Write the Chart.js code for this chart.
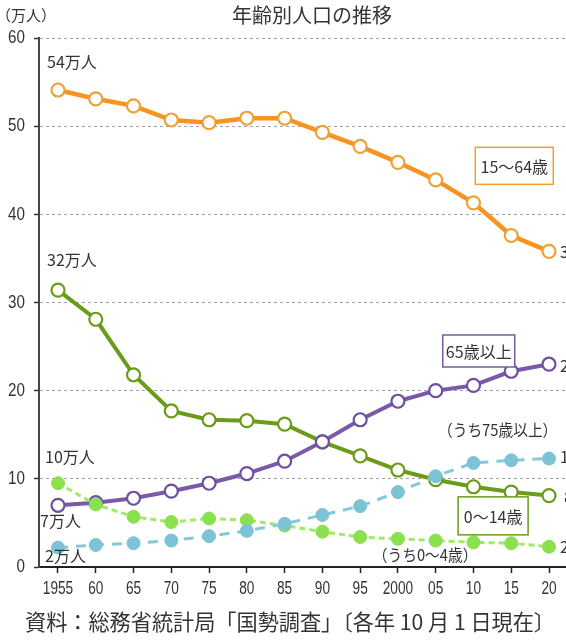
<!DOCTYPE html>
<html><head><meta charset="utf-8">
<script src="https://cdn.jsdelivr.net/npm/chart.js@4"></script>
<style>html,body{margin:0;padding:0;background:#fff}#wrap{width:566px;height:640px;position:relative}</style>
</head><body><div id="wrap"><canvas id="c" width="566" height="640"></canvas></div>
<script>
const years = [1955,1960,1965,1970,1975,1980,1985,1990,1995,2000,2005,2010,2015,2020];
const tickLabels = ['1955','60','65','70','75','80','85','90','95','2000','05','10','15','20'];
const age15to64 = [54.1,53.1,52.3,50.7,50.4,50.9,50.9,49.3,47.7,45.9,43.9,41.3,37.6,35.8];
const age0to14  = [31.4,28.1,21.8,17.7,16.7,16.6,16.2,14.2,12.6,11.0,9.9,9.1,8.5,8.1];
const age65plus = [7.0,7.3,7.8,8.6,9.5,10.6,12.0,14.2,16.7,18.8,20.0,20.6,22.2,23.0];
const age75plus = [2.2,2.5,2.7,3.0,3.5,4.1,4.9,5.9,6.9,8.5,10.3,11.8,12.1,12.3];
const age0to4   = [9.5,7.1,5.7,5.1,5.5,5.3,4.7,4.0,3.4,3.2,3.0,2.8,2.7,2.3];
const yTicks = [0,10,20,30,40,50,60];

const LAT = "'Liberation Sans',Arial,sans-serif";
const CJK = "'Noto Sans CJK JP',sans-serif";

const pts = arr => arr.map((v,i)=>({x:years[i], y:v}));

function cond(ctx, txt, x, y, sx, align){
  ctx.save(); ctx.translate(x, y); ctx.scale(sx, 1);
  ctx.textAlign = align; ctx.fillText(txt, 0, 0); ctx.restore();
}

const annot = {
  id:'annot',
  afterDatasetsDraw(chart){
    const ctx = chart.ctx, xs = chart.scales.x, ys = chart.scales.y;
    const X = v => xs.getPixelForValue(v), Y = v => ys.getPixelForValue(v);
    ctx.save();
    ctx.fillStyle = '#333';
    ctx.textBaseline = 'middle';
    ctx.textAlign = 'left';
    ctx.font = '16px ' + CJK;
    const x0 = X(years[0]);
    ctx.fillText('54万人', x0 - 11, Y(age15to64[0]) - 28);
    ctx.fillText('32万人', x0 - 11, Y(age0to14[0]) - 30);
    ctx.fillText('10万人', x0 - 13, Y(age0to4[0]) - 26);
    ctx.fillText('7万人', x0 - 18, Y(age65plus[0]) + 16);
    ctx.fillText('2万人', x0 - 13, Y(age75plus[0]) + 8);
    // right edge labels (clipped by canvas edge)
    const n = years.length-1;
    const xe = X(years[n]) + 11;
    ctx.fillText('36万人', xe, Y(age15to64[n]) + 1);
    ctx.fillText('23万人', xe, Y(age65plus[n]) + 2);
    ctx.fillText('12万人', xe, Y(age75plus[n]) - 2);
    ctx.fillText('8万人', xe + 4, Y(age0to14[n]) + 1);
    ctx.fillText('2万人', xe, Y(age0to4[n]));
    // boxed labels
    const box = (txt, cx, cy, w, h, col) => {
      ctx.fillStyle = '#fff';
      ctx.fillRect(cx - w/2, cy - h/2, w, h);
      ctx.strokeStyle = col; ctx.lineWidth = 1.5;
      ctx.strokeRect(cx - w/2, cy - h/2, w, h);
      ctx.fillStyle = '#333'; ctx.textAlign = 'center';
      ctx.fillText(txt, cx, cy + 1);
      ctx.textAlign = 'left';
    };
    ctx.font = '16px ' + CJK;
    box('15～64歳', X(2015.4), Y(45.5), 78, 37, '#F0A030');
    box('65歳以上', X(2010.7), Y(24.5), 72, 32, '#7A5AA8');
    box('0～14歳', X(2012.6), Y(5.8), 70, 38, '#6A9C1A');
    ctx.font = '16px ' + CJK;
    ctx.textAlign = 'center';
    cond(ctx, '（うち75歳以上）', X(2013.2), Y(15.5), 0.92, 'center');
    cond(ctx, '（うち0～4歳）', X(2003.6), Y(1.35), 0.92, 'center');
    ctx.restore();
  },
  afterDraw(chart){
    const ctx = chart.ctx, xs = chart.scales.x, ys = chart.scales.y;
    ctx.save();
    ctx.fillStyle = '#333';
    ctx.textBaseline = 'middle';
    // tick labels (condensed)
    ctx.font = '18px ' + LAT;
    xs.ticks.forEach((t) => {
      const i = years.indexOf(t.value);
      if (i >= 0) cond(ctx, tickLabels[i], xs.getPixelForValue(t.value), 589, 0.76, 'center');
    });
    ctx.font = '19px ' + LAT;
    ys.ticks.forEach((t) => {
      cond(ctx, String(t.value), 25, ys.getPixelForValue(t.value), 0.8, 'right');
    });
    ctx.textAlign = 'left';
    ctx.font = '15px ' + CJK;
    ctx.fillText('（万人）', -4, 15);
    ctx.textAlign = 'center';
    ctx.font = '20px ' + CJK;
    ctx.fillText('年齢別人口の推移', 312, 15);
    ctx.font = '21.5px ' + CJK;
    ctx.fillText('資料：総務省統計局「国勢調査」〔各年 10 月 1 日現在〕', 290, 622, 530);
    ctx.restore();
  }
};

new Chart(document.getElementById('c'), {
  type:'line',
  data:{
    datasets:[
      {label:'15～64歳', data:pts(age15to64), borderColor:'#F7931E', borderWidth:4.5,
       pointRadius:6.5, pointBackgroundColor:'#fff', pointBorderColor:'#EBA23A', pointBorderWidth:2.2, order:5},
      {label:'0～14歳', data:pts(age0to14), borderColor:'#6A9C1A', borderWidth:4,
       pointRadius:6.5, pointBackgroundColor:'#fff', pointBorderColor:'#6A9C1A', pointBorderWidth:2.2, order:4},
      {label:'65歳以上', data:pts(age65plus), borderColor:'#7A5AA8', borderWidth:4,
       pointRadius:6.5, pointBackgroundColor:'#fff', pointBorderColor:'#6E4FA0', pointBorderWidth:2.2, order:3},
      {label:'うち0～4歳', data:pts(age0to4), borderColor:'#9FEA66', borderWidth:3, borderDash:[6,4],
       pointRadius:6.5, pointBackgroundColor:'#8BE04E', pointBorderColor:'#8BE04E', pointBorderWidth:1, order:2},
      {label:'うち75歳以上', data:pts(age75plus), borderColor:'#86C8DA', borderWidth:3, borderDash:[10,8],
       pointRadius:6.5, pointBackgroundColor:'#7CC3D6', pointBorderColor:'#7CC3D6', pointBorderWidth:1, order:1}
    ]
  },
  options:{
    responsive:false, animation:false, devicePixelRatio:1,
    layout:{autoPadding:false, padding:{top:38,left:0,right:0,bottom:0}},
    plugins:{legend:{display:false}, tooltip:{enabled:false}, title:{display:false}},
    elements:{line:{tension:0}},
    scales:{
      x:{type:'linear', min:1952.485, max:2022.25,
        afterBuildTicks: s => { s.ticks = years.map(v=>({value:v})); },
        afterFit: s => { s.height = 73; },
        border:{display:true, color:'#222', width:2},
        grid:{drawOnChartArea:false, drawTicks:true, tickLength:6, tickColor:'#222', tickWidth:1.5},
        ticks:{display:false}
      },
      y:{min:0, max:60,
        afterBuildTicks: s => { s.ticks = yTicks.map(v=>({value:v})); },
        afterFit: s => { s.width = 39; },
        border:{display:true, color:'#444', width:2, dash:[3,3]},
        grid:{color: c => c.tick && c.tick.value===0 ? 'rgba(0,0,0,0)' : '#a0a0a0', lineWidth:1,
          drawTicks:true, tickLength:5, tickColor:'#333', tickBorderDash:[], tickWidth:1.5},
        ticks:{display:false}
      }
    }
  },
  plugins:[annot]
});
</script></body></html>
